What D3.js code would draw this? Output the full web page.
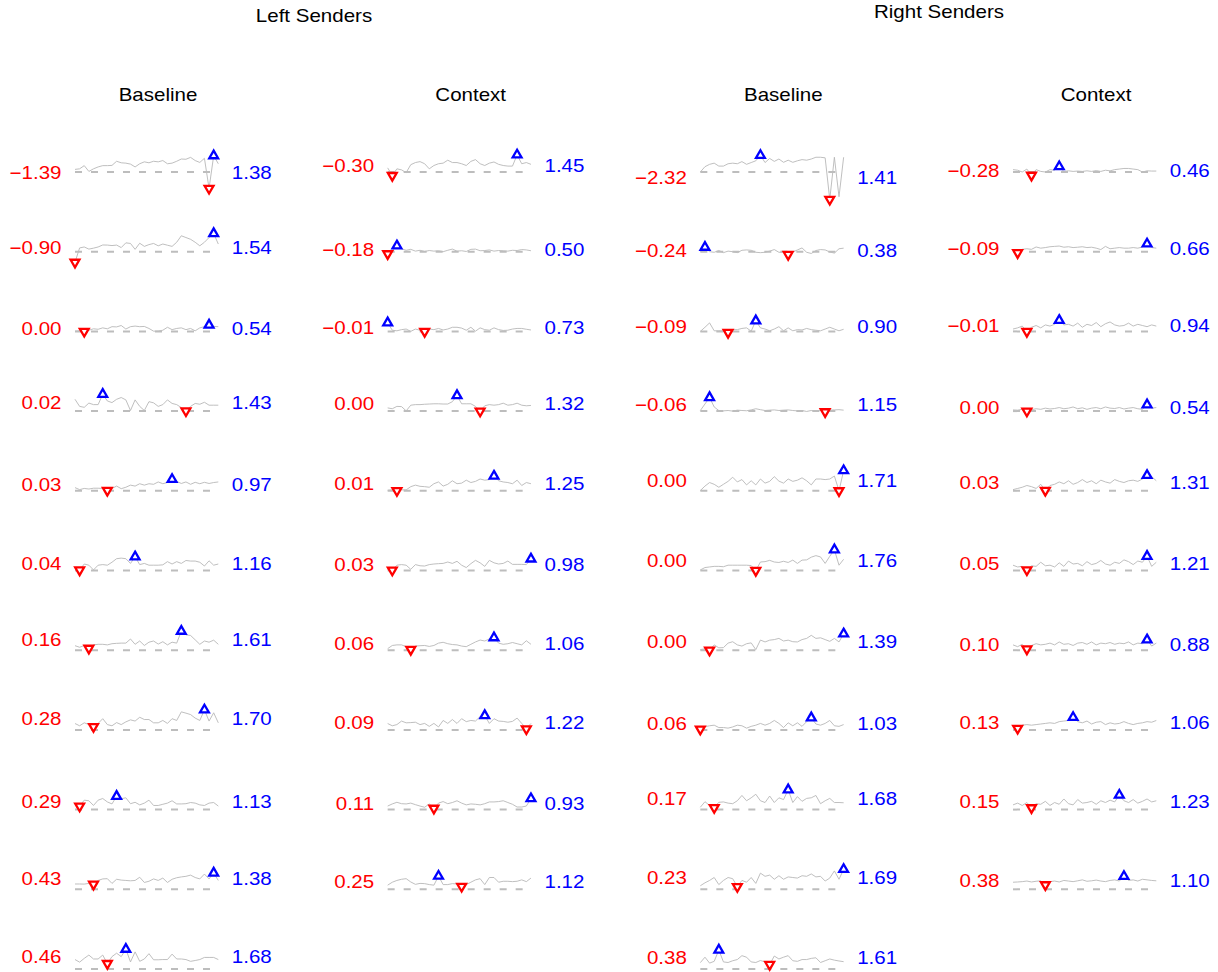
<!DOCTYPE html>
<meta charset="utf-8">
<style>
  body { margin: 0; background: #fff; }
  svg { display: block; font-family: "Liberation Sans", Arial, Helvetica, sans-serif; }
</style>
<svg width="1218" height="972"></svg>
<script src="https://cdnjs.cloudflare.com/ajax/libs/d3/7.8.5/d3.min.js"></script>
<script>
// one row per sender, 32 time points each
var leftBaseline = [
  [0.22,0.27,0.54,0.05,0.27,0.43,0.54,0.54,0.56,0.91,0.78,0.75,0.67,0.43,0.70,0.86,0.78,0.91,0.86,0.97,0.70,0.75,0.91,1.10,1.08,1.24,0.97,0.81,1.16,-1.39,1.38,0.70],
  [-0.90,0.32,0.40,0.22,0.30,0.40,0.57,0.56,0.52,0.56,0.35,0.75,0.70,0.20,0.72,0.45,0.60,0.70,0.50,0.65,0.55,0.45,0.80,1.35,1.20,1.05,0.80,0.50,0.80,1.20,1.54,0.65],
  [0.02,0.05,0.00,0.10,0.22,0.18,0.30,0.22,0.40,0.38,0.50,0.20,0.40,0.45,0.40,0.42,0.25,0.02,0.03,0.10,0.35,0.15,0.25,0.30,0.15,0.25,0.05,0.30,0.40,0.54,0.42,0.40],
  [1.00,0.40,0.32,0.68,0.55,0.55,1.43,0.86,0.72,1.00,1.15,0.95,0.05,0.95,0.40,0.05,0.80,0.70,0.40,0.55,0.95,0.65,0.55,0.30,0.02,0.40,0.65,0.58,0.75,0.50,0.50,0.50],
  [0.27,0.10,0.20,0.15,0.22,0.22,0.20,0.03,0.20,0.40,0.18,0.30,0.48,0.40,0.60,0.48,0.60,0.55,0.75,0.60,0.70,0.97,0.80,0.62,0.75,0.55,0.72,0.60,0.72,0.62,0.70,0.75],
  [0.19,0.04,0.55,0.45,0.05,0.45,0.50,0.45,0.70,1.00,1.05,1.00,0.60,1.16,0.50,0.60,0.45,0.45,0.45,0.48,0.75,0.55,0.75,0.60,0.85,0.80,0.80,0.70,0.38,0.82,0.45,0.55],
  [0.38,0.25,0.40,0.16,0.45,0.50,0.50,0.45,0.55,0.58,0.60,0.60,0.95,0.50,0.78,0.40,0.68,0.78,0.52,0.72,0.45,0.68,0.60,1.61,1.30,1.25,0.88,0.50,0.78,0.68,0.85,0.50],
  [0.54,0.35,0.60,0.45,0.28,0.55,0.95,0.45,0.35,0.62,0.45,0.68,0.85,0.75,1.07,0.88,0.88,0.60,0.60,0.80,0.55,0.95,0.80,1.53,1.42,1.30,1.00,0.80,1.70,0.75,1.45,0.60],
  [0.48,0.29,0.80,0.75,0.35,0.80,0.94,0.65,0.48,1.13,0.92,1.00,0.50,0.62,0.40,0.55,0.80,0.35,0.35,0.45,0.55,0.75,0.48,0.48,0.50,0.60,0.55,0.40,0.35,0.55,0.60,0.30],
  [0.45,0.45,0.44,0.50,0.43,0.75,0.88,0.90,0.50,0.85,0.78,0.75,0.72,0.75,1.02,0.58,0.68,0.88,0.75,0.95,0.58,0.85,0.98,1.05,1.10,1.20,1.00,0.88,1.29,0.88,1.38,0.75],
  [0.80,0.58,0.90,1.18,0.85,0.85,1.18,0.46,1.05,1.34,1.05,1.68,0.60,1.45,0.65,0.85,1.30,0.78,0.78,0.80,0.80,1.26,0.85,0.85,0.80,0.65,0.72,0.80,0.98,0.98,0.98,0.80]
];

var leftContext = [
  [0.35,-0.30,0.27,0.18,-0.05,0.62,0.80,0.88,0.70,0.27,0.55,0.70,0.75,1.00,0.80,0.80,0.70,0.55,0.90,1.05,0.70,0.55,0.75,0.85,0.65,0.55,0.50,0.50,1.45,0.70,0.80,0.65],
  [-0.18,0.10,0.50,0.25,0.12,0.20,0.05,0.12,0.02,0.10,0.05,0.08,0.00,0.12,0.22,0.05,0.08,0.02,0.20,0.22,0.08,0.10,0.15,0.05,0.10,0.08,0.05,0.12,0.10,0.18,0.15,0.08],
  [0.73,0.10,0.05,0.15,0.20,0.00,0.20,0.10,-0.01,0.20,0.15,0.25,0.12,0.20,0.35,0.35,0.28,0.10,0.35,0.02,0.30,0.15,0.10,0.30,0.15,0.08,0.10,0.20,0.25,0.25,0.18,0.12],
  [0.27,0.20,0.40,0.38,0.02,0.50,0.55,0.55,0.58,0.60,0.62,0.62,0.60,0.60,0.80,1.32,0.62,0.62,0.62,0.40,0.00,0.45,0.55,0.50,0.55,0.67,0.50,0.55,0.67,0.50,0.45,0.48],
  [0.05,0.08,0.01,0.08,0.08,0.35,0.48,0.38,0.35,0.30,0.60,0.75,0.40,0.55,0.85,0.60,0.65,0.90,0.70,0.80,1.00,0.90,0.95,1.25,0.85,0.75,0.70,0.60,0.90,0.45,0.70,0.60],
  [0.13,0.03,0.45,0.50,0.45,0.10,0.50,0.40,0.38,0.50,0.55,0.58,0.60,0.72,0.60,0.78,0.45,0.25,0.58,0.86,0.65,0.35,0.86,0.65,0.55,0.60,0.80,0.52,0.52,0.52,0.50,0.98],
  [0.13,0.40,0.45,0.45,0.30,0.06,0.35,0.38,0.40,0.32,0.40,0.60,0.67,0.55,0.48,0.45,0.35,0.30,0.50,0.70,0.86,0.78,0.95,1.06,0.60,0.50,0.55,0.65,0.55,0.45,0.80,0.50],
  [0.54,0.35,0.45,0.75,0.60,0.62,0.65,0.45,0.55,0.30,0.55,0.25,0.80,0.55,0.88,0.55,0.95,0.70,0.80,0.75,1.13,1.22,0.55,0.95,0.75,0.72,0.65,0.72,1.00,0.55,0.09,0.55],
  [0.30,0.48,0.62,0.50,0.48,0.55,0.42,0.30,0.20,0.48,0.11,0.55,0.68,0.50,0.60,0.75,0.55,0.40,0.48,0.45,0.40,0.50,0.65,0.65,0.68,0.75,0.60,0.45,0.22,0.22,0.30,0.93],
  [0.35,0.60,0.75,0.85,0.90,0.62,0.42,0.50,0.48,0.40,0.35,1.12,0.40,0.40,0.48,0.45,0.25,0.40,0.60,0.80,0.90,0.40,1.00,1.00,0.60,0.68,0.68,0.65,0.68,0.80,0.65,0.95]
];

var rightBaseline = [
  [0.00,0.45,0.65,0.75,0.50,0.50,0.70,0.75,0.70,0.88,0.65,0.80,0.95,1.41,0.80,1.15,0.90,1.10,0.82,1.00,0.82,0.95,1.05,1.00,1.10,1.25,1.25,1.20,-2.32,1.25,-2.10,1.25],
  [0.02,0.38,0.00,-0.05,0.10,-0.08,0.05,0.00,-0.08,0.12,0.15,0.12,-0.05,-0.08,-0.05,0.05,0.18,-0.05,-0.05,-0.24,-0.03,0.15,0.32,-0.05,-0.15,0.10,0.18,0.15,-0.02,-0.12,0.25,0.30],
  [0.00,0.35,0.72,0.05,0.05,0.05,-0.09,0.15,0.15,0.25,0.30,0.02,0.90,0.30,0.20,0.05,0.20,0.40,0.05,0.30,0.05,0.15,0.12,0.25,0.15,0.10,0.05,0.20,0.35,0.20,0.05,0.18],
  [0.05,0.60,1.15,0.35,0.05,0.02,0.05,0.00,0.08,0.05,0.03,0.10,0.20,0.12,0.05,0.08,0.10,0.05,0.08,0.10,0.05,0.02,0.05,-0.03,0.05,0.00,0.08,-0.06,0.08,0.10,0.12,0.08],
  [0.02,0.40,0.70,0.55,0.30,0.55,0.80,1.15,0.75,0.95,0.50,0.85,0.50,1.00,0.65,0.80,1.20,0.82,0.65,1.00,0.80,0.90,1.10,0.85,0.50,1.00,1.00,0.95,1.00,1.25,0.00,1.71],
  [0.05,0.25,0.30,0.35,0.35,0.32,0.45,0.45,0.45,0.45,0.45,0.42,0.00,0.72,0.75,0.86,0.72,0.68,0.78,0.68,0.88,0.60,0.88,0.90,1.13,1.26,1.15,0.60,1.20,1.76,0.45,0.95],
  [0.05,0.12,0.00,0.45,0.20,0.22,0.60,0.72,0.45,0.35,0.55,0.62,0.05,0.86,0.70,0.85,0.90,1.00,0.78,0.85,0.72,0.70,0.90,1.00,1.26,1.00,1.05,0.90,0.75,1.00,0.70,1.39],
  [0.06,0.27,0.35,0.40,0.20,0.20,0.15,0.25,0.40,0.35,0.15,0.30,0.40,0.55,0.40,0.55,0.80,0.55,0.20,0.60,0.35,0.60,0.30,0.70,1.03,0.50,0.40,0.55,0.80,0.35,0.30,0.45],
  [0.20,0.67,0.35,0.17,0.62,0.65,0.55,0.50,0.75,1.20,0.75,1.00,1.30,0.75,0.60,1.15,0.60,1.00,0.85,1.68,0.60,1.10,0.70,0.95,1.00,1.20,0.50,0.75,0.95,0.60,0.60,0.58],
  [0.30,0.55,0.75,1.00,0.40,0.75,1.00,0.90,0.23,0.75,0.60,1.00,0.50,1.37,1.10,1.20,0.85,1.15,0.85,1.05,1.00,0.95,1.15,1.10,1.30,1.05,1.10,0.70,0.95,1.56,0.85,1.69],
  [0.54,1.00,0.50,0.65,1.61,0.60,0.55,0.70,0.80,1.13,1.00,0.60,0.55,0.72,0.60,0.38,1.10,0.85,1.00,1.13,0.70,0.65,0.80,0.80,0.90,0.95,0.55,0.70,0.85,0.75,0.68,0.62]
];

var rightContext = [
  [0.20,0.15,0.00,0.25,-0.28,0.20,0.05,0.00,0.20,0.15,0.46,0.05,0.10,0.05,0.08,0.05,0.10,0.05,0.12,0.05,0.15,0.10,0.20,0.25,0.30,0.30,0.25,0.20,0.00,0.10,0.08,0.08],
  [0.15,-0.09,0.20,0.25,0.20,0.40,0.30,0.35,0.42,0.45,0.48,0.38,0.42,0.35,0.38,0.42,0.35,0.38,0.30,0.18,0.45,0.25,0.30,0.35,0.30,0.30,0.35,0.30,0.40,0.66,0.35,0.30],
  [0.20,0.30,0.45,-0.01,0.35,0.50,0.30,0.55,0.45,0.60,0.94,0.55,0.60,0.45,0.70,0.35,0.60,0.50,0.75,0.40,0.65,0.80,0.55,0.45,0.50,0.70,0.45,0.60,0.50,0.40,0.55,0.45],
  [0.10,0.08,0.15,0.00,0.12,0.20,0.15,0.25,0.18,0.22,0.30,0.20,0.25,0.35,0.20,0.28,0.15,0.25,0.30,0.20,0.35,0.25,0.22,0.30,0.18,0.25,0.30,0.20,0.15,0.54,0.25,0.30],
  [0.10,0.20,0.30,0.45,0.35,0.20,0.55,0.03,0.45,0.55,0.75,0.60,0.85,0.55,0.70,0.95,0.70,0.85,0.60,0.90,0.75,0.65,0.95,0.80,0.70,0.85,0.90,0.80,1.00,1.31,1.20,0.85],
  [0.45,0.30,0.35,0.05,0.40,0.35,0.70,0.40,0.45,0.30,0.65,0.35,0.80,0.55,0.60,0.40,0.75,0.50,0.60,0.85,0.55,0.45,0.70,0.60,0.90,0.75,0.50,0.80,0.70,1.21,0.35,0.70],
  [0.45,0.30,0.50,0.10,0.40,0.55,0.45,0.50,0.60,0.45,0.70,0.50,0.55,0.40,0.60,0.65,0.50,0.70,0.45,0.60,0.55,0.65,0.50,0.60,0.55,0.70,0.45,0.60,0.55,0.88,0.35,0.60],
  [0.40,0.13,0.40,0.45,0.40,0.45,0.50,0.55,0.60,0.55,0.70,0.75,0.80,1.06,0.70,0.60,0.75,0.50,0.65,0.70,0.45,0.60,0.50,0.55,0.70,0.55,0.45,0.55,0.60,0.70,0.65,0.80],
  [0.40,0.55,0.35,0.60,0.15,0.50,0.45,0.70,0.35,0.60,0.45,0.90,0.50,0.40,0.85,0.55,0.60,0.70,0.45,0.75,0.60,0.80,0.65,1.23,0.75,0.60,0.85,0.55,0.70,0.90,0.65,0.75],
  [0.60,0.62,0.65,0.70,0.62,0.68,0.72,0.38,0.65,0.70,0.62,0.75,0.70,0.65,0.72,0.80,0.68,0.72,0.78,0.70,0.65,0.75,0.80,0.70,1.10,0.75,0.80,0.70,0.85,0.80,0.75,0.72]
];

var groupTitles = ["Left Senders", "Right Senders"];
var columnTitles = ["Baseline", "Context", "Baseline", "Context"];
var columns = [leftBaseline, leftContext, rightBaseline, rightContext];

var svg = d3.select("svg"),
    width = +svg.attr("width"),
    height = +svg.attr("height");

var fs = 18, stretch = 1.14;          // text comes out a bit wide in the original
var fmt = d3.format(".2f");

var colX = d3.scaleLinear().domain([0, 3]).range([75, 1013]);
var rowY = d3.scaleLinear().domain([0, 10]).range([172, 969]);
var px = d3.scaleLinear().domain([0, 31]).range([0, 143.3]);
var unit = 11.8;                       // pixels per unit, shared by every panel

svg.append("rect").attr("width", width).attr("height", height).attr("fill", "#fff");

function label(g, x, y, txt, anchor, col) {
  g.append("text")
    .attr("transform", "translate(" + x + "," + y + ") scale(" + stretch + ",1)")
    .attr("text-anchor", anchor)
    .attr("font-size", fs)
    .attr("fill", col)
    .text(txt);
}

// titles
groupTitles.forEach(function(t, i) {
  label(svg, i == 0 ? 314 : 939, i == 0 ? 22 : 18, t, "middle", "#000");
});
columnTitles.forEach(function(t, c) {
  label(svg, colX(c) + 83, 101, t, "middle", "#000");
});

var line = d3.line().x(function(d, i) { return px(i); });
var tri = d3.symbol().type(d3.symbolTriangle).size(34);

columns.forEach(function(series, c) {
  var gc = svg.append("g").attr("transform", "translate(" + colX(c) + ",0)");

  series.forEach(function(vals, r) {
    var y = d3.scaleLinear().domain([0, 1]).range([rowY(r), rowY(r) - unit]);
    var lo = d3.min(vals), hi = d3.max(vals);
    var iLo = vals.indexOf(lo), iHi = vals.indexOf(hi);

    gc.append("path")
      .attr("d", line.y(function(d) { return y(d); })(vals))
      .attr("fill", "none")
      .attr("stroke", "#b8b8b8")
      .attr("stroke-width", 0.9)
      .attr("stroke-linejoin", "round");

    gc.append("line")
      .attr("x1", px(0)).attr("x2", px(31))
      .attr("y1", y(0)).attr("y2", y(0))
      .attr("stroke", "#bdbdbd")
      .attr("stroke-width", 2)
      .attr("stroke-dasharray", "7,9");

    gc.append("path")
      .attr("d", tri())
      .attr("transform", "translate(" + px(iHi) + "," + y(hi) + ")")
      .attr("fill", "#fff").attr("stroke", "#0000ff").attr("stroke-width", 2.3);
    gc.append("path")
      .attr("d", tri())
      .attr("transform", "translate(" + px(iLo) + "," + y(lo) + ") rotate(180)")
      .attr("fill", "#fff").attr("stroke", "#ff0000").attr("stroke-width", 2.3);

    var mid = y((lo + hi) / 2) + 0.358 * fs;
    label(gc, -13.5, mid, fmt(lo), "end", "#ff0000");
    label(gc, px(31) + 13.5, mid, fmt(hi), "start", "#0000ff");
  });
});
</script>
